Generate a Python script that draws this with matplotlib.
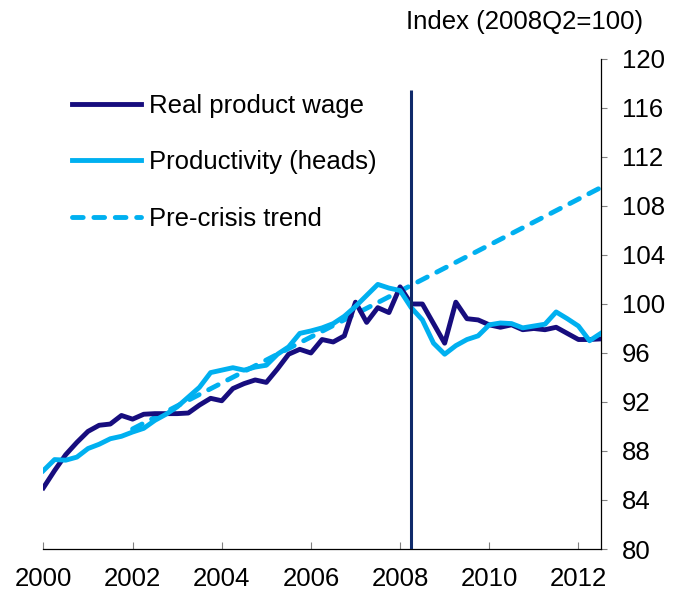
"""
Real product wage vs productivity, indexed to 2008Q2 = 100.

Quarterly series 2000Q1-2012Q3 with the pre-crisis productivity trend
extended past the 2008Q2 marker.
"""

import matplotlib
matplotlib.use("Agg")
import matplotlib.pyplot as plt

# ---------------------------------------------------------------------------
# Data (quarterly from 2000Q1)
# ---------------------------------------------------------------------------
START_YEAR = 2000

real_wage = [
    85.0, 86.4, 87.7, 88.7, 89.6, 90.1, 90.2, 90.9, 90.6, 91.0,
    91.05, 91.05, 91.05, 91.1, 91.75, 92.3, 92.1, 93.1, 93.5, 93.8,
    93.6, 94.7, 95.9, 96.3, 96.0, 97.1, 96.9, 97.4, 100.15, 98.5,
    99.7, 99.3, 101.4, 100.0, 100.0, 98.4, 96.8, 100.15, 98.8, 98.7,
    98.3, 98.1, 98.3, 97.9, 98.0, 97.9, 98.1, 97.6, 97.1, 97.1,
    97.15,
]

productivity = [
    86.4, 87.3, 87.25, 87.5, 88.2, 88.55, 89.0, 89.2, 89.55, 89.85,
    90.5, 91.0, 91.6, 92.4, 93.2, 94.4, 94.6, 94.8, 94.6, 94.85,
    95.0, 95.9, 96.5, 97.6, 97.8, 98.05, 98.4, 99.0, 99.8, 100.7,
    101.6, 101.3, 101.1, 99.7, 98.7, 96.8, 95.9, 96.6, 97.1, 97.4,
    98.3, 98.45, 98.4, 98.05, 98.2, 98.35, 99.35, 98.8, 98.2, 97.0,
    97.6,
]

# straight pre-crisis trend, start and end point
trend_years = [2002.0, 2012.5]
trend_values = [89.8, 109.5]

CRISIS_QUARTER = 2008.25      # 2008Q2
CRISIS_LINE_TOP = 117.5

year_ticks = [2000, 2002, 2004, 2006, 2008, 2010, 2012]
index_ticks = [80, 84, 88, 92, 96, 100, 104, 108, 112, 116, 120]

quarters = [START_YEAR + i / 4 for i in range(len(real_wage))]

# ---------------------------------------------------------------------------
# Style
# ---------------------------------------------------------------------------
DARK = "#170d7e"
LIGHT = "#00b0f0"
MARKER = "#0f2a6a"
FS = 18.5

plt.rcParams["font.family"] = ["Liberation Sans", "DejaVu Sans"]

fig = plt.figure(figsize=(6.87, 5.97), dpi=100)
ax = fig.add_axes([0.0632, 0.0804, 0.8112, 0.8208])

ax.vlines(CRISIS_QUARTER, 80, CRISIS_LINE_TOP, color=MARKER, lw=2.2, zorder=4)

ax.plot(quarters, real_wage, color=DARK, lw=3.5, label="Real product wage",
        solid_joinstyle="round", zorder=3)
ax.plot(quarters, productivity, color=LIGHT, lw=3.5,
        label="Productivity (heads)", solid_joinstyle="round", zorder=3)
ax.plot(trend_years, trend_values, color=LIGHT, lw=3.5, dashes=(2.2, 2.2),
        dash_capstyle="round", label="Pre-crisis trend", zorder=2)

# ---- Axes ---------------------------------------------------------------
ax.set_xlim(START_YEAR, quarters[-1])
ax.set_ylim(80, 120)
ax.set_xticks(year_ticks)
ax.set_yticks(index_ticks)

ax.spines["left"].set_visible(False)
ax.spines["top"].set_visible(False)
ax.spines["bottom"].set_linewidth(0.9)
ax.spines["right"].set_linewidth(0.9)

ax.yaxis.tick_right()
ax.tick_params(axis="y", direction="out", length=4.5, width=0.8,
               color="#808080", pad=11, labelsize=FS)
ax.tick_params(axis="x", direction="in", length=5, width=0.8,
               color="#808080", pad=13, labelsize=FS)

fig.text(0.936, 0.963, "Index (2008Q2=100)", ha="right", va="center",
         fontsize=FS)

ax.legend(loc="upper left", bbox_to_anchor=(0.0508, 0.928), frameon=False,
          fontsize=FS, handlelength=2.7, handletextpad=0.3,
          labelspacing=1.25, borderpad=0, borderaxespad=0)

fig.savefig("out.png", dpi=100)
